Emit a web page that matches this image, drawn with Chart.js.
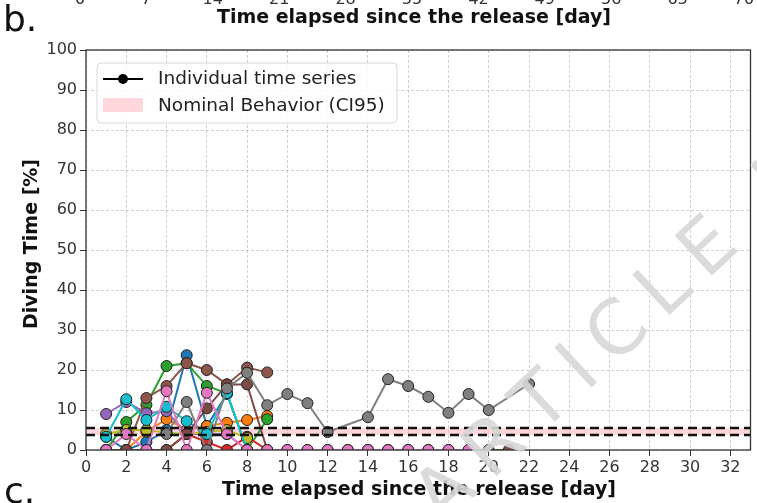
<!DOCTYPE html>
<html>
<head>
<meta charset="utf-8">
<script src="https://cdn.jsdelivr.net/npm/chart.js@4.4.1/dist/chart.umd.min.js"></script>
<style>
  html, body { margin: 0; padding: 0; background: #fff; }
  #wrap { width: 757px; height: 503px; }
</style>
</head>
<body>
<div id="wrap"><canvas id="chart" width="757" height="503"></canvas></div>
<script>
// days since release (index 0 = day 1)
const days = [1, 2, 3, 4, 5, 6, 7, 8, 9, 10, 11, 12, 13, 14, 15, 16, 17, 18, 19, 20, 21, 22];

// individual time series, diving time [%]
const blueVals   = [3.3, 0, 2, 5, 23.7, 6, 14, 0];
const orangeVals = [null, 0, 4.6, 7.7, 5, 6, 6.8, 7.5, 8.5];
const greenVals  = [0, 7, 11.3, 21, 21.7, 16, 14.2, 0, 7.7];
const redVals    = [null, null, null, 0, 4, 2, 0, 3.3, 0];
const purpleVals = [9, 12, 9.2, 9.7, 4, 4, 4, 0];
const brownVals  = [null, 0, 13, 16, 21.7, 20, 16.4, 20.6, 19.4];
const oliveVals  = [4, 5, 5, 4.3, 4, 4.5, 5, 3];
const cyanVals   = [3.3, 12.7, 7.5, 10.8, 7.2, 4, 14.2, 0];
const maroonVals = [0, 0, 0, 0, 4, 10.4, 16.4, 16.4, 0, 0, 0, 0, 0, 0, 0, 0, 0, 0, 0, 0, 0];
const grayVals   = [null, null, null, 4, 12, 0, 15.4, 19.3, 11.2, 14, 11.7, 4.5, null, 8.2, 17.7, 16, 13.3, 9.3, 14, 10, null, 16.5];
const pinkVals   = [0, 4, 0, 14.7, 0, 14.3, 4, 0, 0, 0, 0, 0, 0, 0, 0, 0, 0, 0, 0];

const seriesVals   = [blueVals, orangeVals, greenVals, redVals, purpleVals, brownVals, oliveVals, cyanVals, maroonVals, grayVals, pinkVals];
const seriesColors = ['#1f77b4', '#ff7f0e', '#2ca02c', '#d62728', '#9467bd', '#8c564b', '#bcbd22', '#17becf', '#7a4a44', '#7f7f7f', '#e377c2'];

// nominal behaviour CI95 bounds
const bandX = [0, 33];
const ciUpper = 5.5;
const ciLower = 3.75;

const xTicks = [0, 2, 4, 6, 8, 10, 12, 14, 16, 18, 20, 22, 24, 26, 28, 30, 32];
const yTicks = [0, 10, 20, 30, 40, 50, 60, 70, 80, 90, 100];
const prevPanelTicks = ['0', '7', '14', '21', '28', '35', '42', '49', '56', '63', '70'];

const xTitle = 'Time elapsed since the release [day]';
const yTitle = 'Diving Time [%]';

function toPoints(vals) {
    return vals.map((v, i) => ({ x: days[i], y: v }));
}

const datasets = [];
datasets.push({
    data: bandX.map(x => ({ x: x, y: ciUpper })),
    borderColor: '#111', borderWidth: 2.6, borderDash: [9, 5],
    pointRadius: 0, fill: '+1', backgroundColor: 'rgba(255, 182, 193, 0.55)', order: 0
});
datasets.push({
    data: bandX.map(x => ({ x: x, y: ciLower })),
    borderColor: '#111', borderWidth: 2.6, borderDash: [9, 5],
    pointRadius: 0, fill: false, order: 0
});
seriesVals.forEach((vals, i) => {
    datasets.push({
        data: toPoints(vals),
        borderColor: seriesColors[i],
        backgroundColor: seriesColors[i],
        borderWidth: 2,
        pointRadius: 5.5,
        pointBorderColor: '#222',
        pointBorderWidth: 1,
        pointBackgroundColor: seriesColors[i],
        spanGaps: true,
        fill: false,
        order: 100 - i
    });
});

const extras = {
    id: 'extras',
    afterDraw(chart) {
        const ctx = chart.ctx;
        const a = chart.chartArea;
        ctx.save();

        // frame
        ctx.strokeStyle = '#333';
        ctx.lineWidth = 1.3;
        ctx.strokeRect(a.left, a.top, a.right - a.left, a.bottom - a.top);

        // legend
        ctx.beginPath();
        ctx.roundRect(97, 63, 300, 60, 4);
        ctx.fillStyle = 'rgba(255,255,255,0.85)';
        ctx.fill();
        ctx.strokeStyle = '#d8d8d8';
        ctx.lineWidth = 1;
        ctx.stroke();
        ctx.strokeStyle = '#000';
        ctx.lineWidth = 2;
        ctx.beginPath();
        ctx.moveTo(103, 79);
        ctx.lineTo(143, 79);
        ctx.stroke();
        ctx.fillStyle = '#000';
        ctx.beginPath();
        ctx.arc(123, 79, 5, 0, Math.PI * 2);
        ctx.fill();
        ctx.fillStyle = 'rgba(255, 182, 193, 0.55)';
        ctx.fillRect(103, 98, 40, 14);
        ctx.fillStyle = '#222';
        ctx.font = '18.5px "DejaVu Sans"';
        ctx.textAlign = 'left';
        ctx.textBaseline = 'middle';
        ctx.fillText('Individual time series', 158, 79);
        ctx.fillText('Nominal Behavior (CI95)', 158, 106);

        // axis titles
        ctx.fillStyle = '#111';
        ctx.font = 'bold 19px "DejaVu Sans"';
        ctx.textAlign = 'center';
        ctx.fillText(xTitle, 419, 490);
        ctx.fillText(xTitle, 414, 18);
        ctx.save();
        ctx.translate(32, 244);
        ctx.rotate(-Math.PI / 2);
        ctx.fillText(yTitle, 0, 0);
        ctx.restore();

        // panel letters
        ctx.font = '36px "DejaVu Sans"';
        ctx.textAlign = 'left';
        ctx.fillText('b.', 3, 22);
        ctx.fillText('c.', 4, 494);

        // tick labels of the panel above (cut off)
        ctx.font = '16px "DejaVu Sans"';
        ctx.textAlign = 'center';
        ctx.textBaseline = 'alphabetic';
        ctx.fillStyle = '#333';
        prevPanelTicks.forEach((t, i) => ctx.fillText(t, 80 + i * 66.4, 4));

        // watermark
        ctx.save();
        ctx.translate(442, 527);
        ctx.rotate(-43 * Math.PI / 180);
        ctx.font = '75px "DejaVu Sans"';
        ctx.fillStyle = 'rgba(215,215,215,0.9)';
        ctx.textAlign = 'left';
        let px = 0;
        for (const ch of 'ARTICLE IN PRESS') {
            ctx.fillText(ch, px, 0);
            px += ctx.measureText(ch).width + 16;
        }
        ctx.restore();

        ctx.restore();
    }
};

new Chart(document.getElementById('chart'), {
    type: 'line',
    data: { datasets: datasets },
    options: {
        responsive: false,
        animation: false,
        layout: { padding: { top: 50, right: 6, left: 0, bottom: 0 } },
        elements: { line: { tension: 0 } },
        plugins: {
            legend: { display: false },
            tooltip: { enabled: false },
            filler: { drawTime: 'beforeDatasetsDraw' }
        },
        scales: {
            x: {
                type: 'linear', min: 0, max: 33,
                afterFit: s => { s.height = 53; },
                afterBuildTicks: s => { s.ticks = xTicks.map(v => ({ value: v })); },
                grid: { color: 'rgba(0,0,0,0.18)', tickColor: '#333', tickLength: 6, tickBorderDash: [] },
                border: { display: false, dash: [3, 2] },
                ticks: { color: '#333', font: { family: 'DejaVu Sans', size: 16 }, padding: 2, maxRotation: 0, autoSkip: false }
            },
            y: {
                min: 0, max: 100,
                afterFit: s => { s.width = 86; },
                afterBuildTicks: s => { s.ticks = yTicks.map(v => ({ value: v })); },
                grid: { color: 'rgba(0,0,0,0.18)', tickColor: '#333', tickLength: 6, tickBorderDash: [] },
                border: { display: false, dash: [3, 2] },
                ticks: { color: '#333', font: { family: 'DejaVu Sans', size: 16 }, padding: 3 }
            }
        }
    },
    plugins: [extras]
});
</script>
</body>
</html>
